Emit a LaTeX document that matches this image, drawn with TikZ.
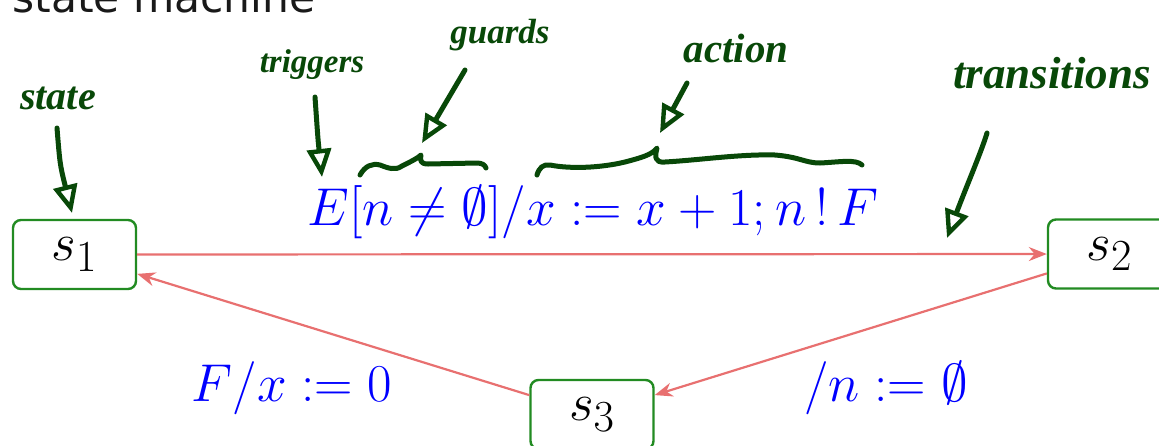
\documentclass[tikz,border=0pt]{standalone}
\usepackage{fontspec}
\newfontfamily\titlefont{DejaVu Sans}
\newfontfamily\handfont{Liberation Serif}
\usetikzlibrary{arrows.meta}
\definecolor{boxgreen}{RGB}{34,139,34}
\definecolor{edgered}{RGB}{232,112,112}
\definecolor{handgreen}{RGB}{8,72,8}
\definecolor{labelblue}{RGB}{0,0,255}
\definecolor{titlegray}{RGB}{25,25,25}
\newcommand{\scaledmath}[1]{\scalebox{1.07}{$#1$}}
\tikzset{
  statebox/.style={draw=boxgreen, line width=1.2pt, rounded corners=4pt,
    minimum width=61.5pt, minimum height=34.5pt, inner sep=0pt,
    font=\fontsize{24.88}{30}\selectfont},
  trans/.style={draw=edgered, line width=1.1pt, -{Stealth[length=9pt,width=7pt]}},
  tlabel/.style={text=labelblue, inner sep=0pt, font=\fontsize{24.88}{30}\selectfont},
  handtext/.style={text=handgreen, inner sep=0pt},
  handarrow/.style={draw=handgreen, line width=2.5pt, line cap=round,
    -{Triangle[open, length=14pt, width=12pt, line width=2.2pt]}},
  handbrace/.style={draw=handgreen, line width=2.5pt, line cap=round, line join=round}
}
\newcommand{\handsize}[1]{\handfont\bfseries\itshape\fontsize{#1}{#1}\selectfont}
\begin{document}
\begin{tikzpicture}[x=0.5pt, y=-0.5pt]
\useasboundingbox (0,0) rectangle (1159,445);
% title (cut off)
\node[anchor=base west, inner sep=0pt, text=titlegray, font=\titlefont\fontsize{21.2}{24}\selectfont] (title) at (12,12) {state machine};
% states
\node[statebox] (s1) at (74.5,254.5) {\scaledmath{s_1}};
\node[statebox] (s2) at (1109.5,254) {\scaledmath{s_2}};
\node[statebox] (s3) at (592,414.5) {\scaledmath{s_3}};
% transitions
\draw[trans] (s1) -- (s2);
\draw[trans] (s2) -- (s3);
\draw[trans] (s3) -- (s1);
% labels
\node[tlabel] (l12) at (593,212) {\scaledmath{E[n \neq \emptyset]/x := x + 1; n\,!\,F}};
\node[tlabel] (l31) at (292,388) {\scaledmath{F/x := 0}};
\node[tlabel] (l23) at (886,388) {\scaledmath{/n := \emptyset}};
% handwritten annotations
\node[handtext, font=\handsize{20}] (hstate) at (58,98) {state};
\node[handtext, font=\handsize{16.5}] (htrig) at (312,65) {triggers};
\node[handtext, font=\handsize{17.5}] (hguard) at (500,35) {guards};
\node[handtext, font=\handsize{20.5}] (haction) at (736,48) {action};
\node[handtext, font=\handsize{22.5}] (htrans) at (1052,73) {transitions};
\coordinate (astate0) at (57,128);
\coordinate (astate1) at (72,213);
\coordinate (atrig0) at (315,97);
\coordinate (atrig1) at (322,177);
\coordinate (aguard0) at (465,70);
\coordinate (aguard1) at (422,143);
\coordinate (aact0) at (687,83);
\coordinate (aact1) at (660,133);
\coordinate (atrans0) at (987,133);
\coordinate (atrans1) at (947,238);
\draw[handarrow] (astate0) .. controls (60,165) .. (astate1);
\draw[handarrow] (atrig0) .. controls (318,140) .. (atrig1);
\draw[handarrow] (aguard0) -- (aguard1);
\draw[handarrow] (aact0) -- (aact1);
\draw[handarrow] (atrans0) .. controls (982,150) and (965,190) .. (atrans1);
% braces
\draw[handbrace] (360,175) .. controls (365,166) and (372,163) .. (380,165)
  .. controls (388,168) and (395,171) .. (402,166)
  .. controls (410,162) and (418,158) .. (421,155)
  .. controls (420,160) and (420,164) .. (428,164)
  -- (477,163) .. controls (482,163) and (485,165) .. (486,168);
\draw[handbrace] (537,175) .. controls (539,168) and (543,164) .. (550,165)
  .. controls (570,169) and (600,168) .. (625,162)
  .. controls (640,158) and (652,155) .. (657,148)
  .. controls (655,156) and (654,163) .. (665,162)
  .. controls (700,160) and (740,154) .. (775,155)
  .. controls (800,157) and (805,163) .. (820,163)
  .. controls (840,162) and (856,159) .. (862,165);
\end{tikzpicture}
\end{document}
